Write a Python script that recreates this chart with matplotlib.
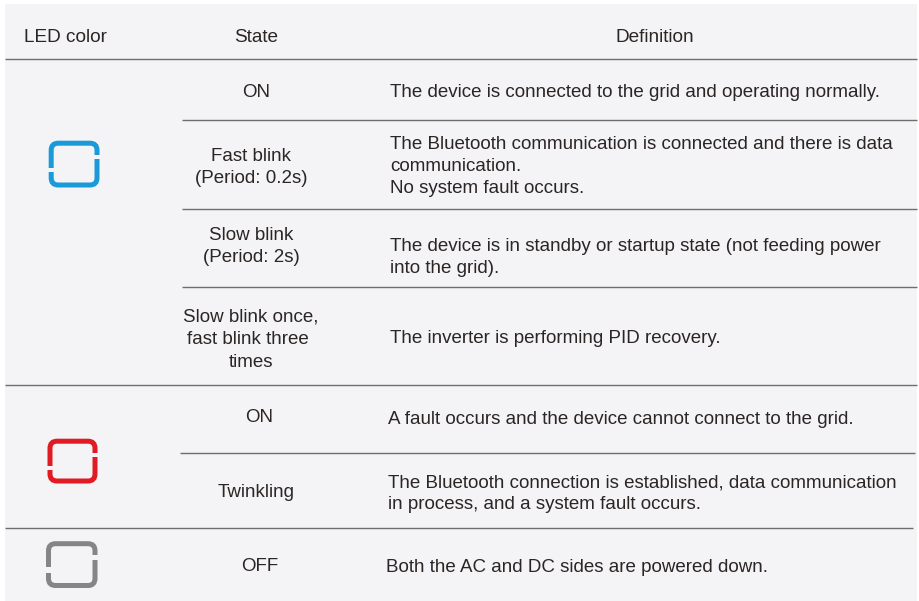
import matplotlib
matplotlib.use("Agg")
import matplotlib.pyplot as plt
from matplotlib.patches import Rectangle, PathPatch
from matplotlib.path import Path

W, H = 919, 601
FONT = "Liberation Sans"
TEXT = "#2b2523"
BG = "#f4f4f7"
LINE = "#6e6e6e"

headers = ["LED color", "State", "Definition"]
header_x = [65.5, 256.5, 654.5]
state_labels = ["ON", "Fast blink", "(Period: 0.2s)", "Slow blink", "(Period: 2s)",
                "Slow blink once,", "fast blink three", "times",
                "ON", "Twinkling", "OFF"]
state_x = [256, 251, 251, 251, 251, 251, 248, 251, 259, 256, 260]
state_y = [97, 161, 183, 240, 262, 322, 344, 367, 422, 497, 571]
definition_lines = [
    "The device is connected to the grid and operating normally.",
    "The Bluetooth communication is connected and there is data",
    "communication.",
    "No system fault occurs.",
    "The device is in standby or startup state (not feeding power",
    "into the grid).",
    "The inverter is performing PID recovery.",
    "A fault occurs and the device cannot connect to the grid.",
    "The Bluetooth connection is established, data communication",
    "in process, and a system fault occurs.",
    "Both the AC and DC sides are powered down.",
]
definition_x = [390, 390, 390, 390, 390, 390, 390, 388, 388, 388, 386]
definition_y = [97, 149, 171, 193, 251, 273, 343, 424, 487, 509, 572]
rule_y = [59, 120, 209, 287, 385, 453, 528]
rule_x0 = [5, 182, 182, 182, 5, 180, 5]
rule_x1 = [917, 917, 917, 917, 917, 915, 913]
icon_colors = ["#1b9ad9", "#e01b24", "#858585"]
icon_left = [51.2, 50, 48.5]
icon_right = [97, 95, 95]
icon_top = [143.2, 441.2, 543.7]
icon_bottom = [185, 481, 585.5]
gap_right = [(155, 159), (453, 457), (555, 560)]
gap_left = [(168, 172), (466, 470), (567, 573)]

fig = plt.figure(figsize=(W / 100, H / 100), dpi=100, facecolor="white")
ax = fig.add_axes([0, 0, 1, 1])
ax.set_xlim(0, W)
ax.set_ylim(H, 0)
ax.axis("off")
ax.add_patch(Rectangle((5, 4), 912, 597, facecolor=BG, edgecolor="none"))

for y, x0, x1 in zip(rule_y, rule_x0, rule_x1):
    ax.plot([x0, x1], [y, y], color=LINE, lw=1.0, solid_capstyle="butt")

for s, x in zip(headers, header_x):
    ax.text(x, 42, s, family=FONT, fontsize=13.7, color=TEXT, ha="center", va="baseline")
for s, x, y in zip(state_labels, state_x, state_y):
    ax.text(x, y, s, family=FONT, fontsize=13.5, color=TEXT, ha="center", va="baseline")
for s, x, y in zip(definition_lines, definition_x, definition_y):
    ax.text(x, y, s, family=FONT, fontsize=13.53, color=TEXT, ha="left", va="baseline")

def icon(c, l, r, t, b, gr, gl):
    k = 7
    verts = [(r, gr[0]), (r, t + k), (r, t), (r - k, t), (l + k, t), (l, t), (l, t + k), (l, gl[0]),
             (l, gl[1]), (l, b - k), (l, b), (l + k, b), (r - k, b), (r, b), (r, b - k), (r, gr[1])]
    codes = [Path.MOVETO, Path.LINETO, Path.CURVE3, Path.CURVE3, Path.LINETO, Path.CURVE3, Path.CURVE3, Path.LINETO,
             Path.MOVETO, Path.LINETO, Path.CURVE3, Path.CURVE3, Path.LINETO, Path.CURVE3, Path.CURVE3, Path.LINETO]
    ax.add_patch(PathPatch(Path(verts, codes), facecolor="none", edgecolor=c, lw=3.6, capstyle="butt"))

for c, l, r, t, b, gr, gl in zip(icon_colors, icon_left, icon_right, icon_top, icon_bottom, gap_right, gap_left):
    icon(c, l, r, t, b, gr, gl)

fig.savefig("out.png", dpi=100, facecolor="white")
